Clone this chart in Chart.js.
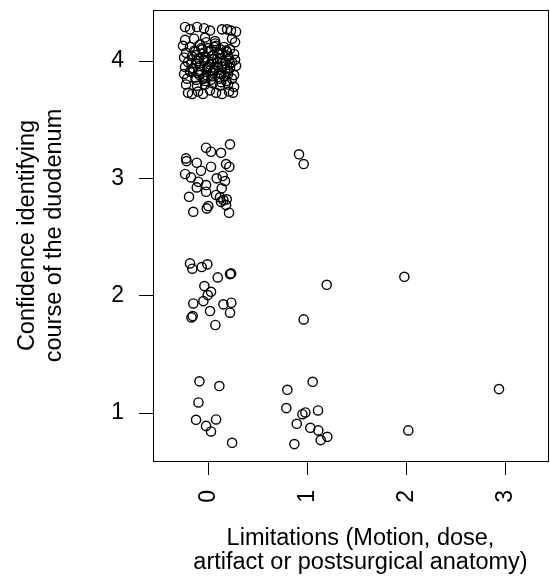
<!DOCTYPE html>
<html>
<head>
<meta charset="utf-8">
<script src="https://cdn.jsdelivr.net/npm/chart.js@4.4.1/dist/chart.umd.min.js"></script>
<style>
    html, body { margin: 0; padding: 0; background: #fff; }
    #wrap { width: 550px; height: 579px; }
</style>
</head>
<body>
<div id="wrap"><canvas id="chart" width="550" height="579"></canvas></div>
<script>
// Jittered points: limitations (x) vs confidence (y), one pair of arrays per confidence level
const conf1X = [-0.09, 0.111, -0.10, -0.124, 0.078, -0.023, 0.027, 0.24,
    1.054, 0.798, 0.788, 0.95, 0.98, 1.108, 0.893, 1.03, 1.111, 1.202, 1.135, 0.869,
    2.02, 2.936];
const conf1Y = [1.27, 1.23, 1.09, 0.942, 0.945, 0.89, 0.843, 0.746,
    1.266, 1.198, 1.042, 0.99, 1.005, 1.022, 0.908, 0.874, 0.852, 0.797, 0.769, 0.735,
    0.852, 1.204];

const conf2X = [-0.185, -0.162, -0.067, -0.01, 0.095, 0.219, 0.23, -0.04, 0.027, -0.006,
    -0.05, -0.152, 0.152, 0.232, -0.158, -0.17, 0.017, 0.219, 0.071,
    1.196, 0.963, 1.98];
const conf2Y = [2.275, 2.23, 2.244, 2.267, 2.156, 2.184, 2.19, 2.082, 2.033, 2.005,
    1.954, 1.934, 1.926, 1.94, 1.826, 1.815, 1.869, 1.855, 1.75,
    2.093, 1.798, 2.161];

const conf3X = [-0.023, 0.027, 0.219, 0.128, -0.225, -0.22, -0.117, 0.027, 0.179, 0.212,
    -0.074, -0.235, -0.175, -0.101, 0.084, 0.145, 0.169, -0.023, -0.117, 0.135,
    -0.023, -0.195, 0.078, 0.118, 0.152, 0.128, 0.186, 0, -0.016, -0.152,
    0.209, 0.179,
    0.916, 0.963];
const conf3Y = [3.261, 3.227, 3.29, 3.218, 3.17, 3.147, 3.133, 3.099, 3.122, 3.099,
    3.065, 3.037, 3.008, 2.971, 3.0, 3.02, 2.977, 2.943, 2.923, 2.915,
    2.886, 2.843, 2.858, 2.838, 2.815, 2.80, 2.821, 2.764, 2.744, 2.715,
    2.707, 2.772,
    3.205, 3.122];

const conf4X = [-0.235, -0.185, -0.114, -0.043, 0.017, 0.138, 0.189, 0.229, 0.280,
    -0.235, -0.144, -0.033, 0.068, 0.239, 0.27,
    -0.256, -0.185, -0.084, -0.003, 0.078, 0.159, 0.219,
    -0.225, -0.134, -0.054, 0.027, 0.108, 0.189, 0.26,
    -0.245, -0.165, -0.094, -0.023, 0.047, 0.118, 0.199, 0.27,
    -0.205, -0.124, -0.043, 0.017, 0.088, 0.169, 0.239,
    -0.235, -0.155, -0.084, -0.003, 0.068, 0.138, 0.219, 0.280,
    -0.245, -0.185, -0.104, -0.023, 0.047, 0.128, 0.199, 0.260,
    -0.215, -0.124, -0.043, 0.027, 0.108, 0.179, 0.239,
    -0.225, -0.114, -0.033, 0.047, 0.118, 0.199, 0.260,
    -0.205, -0.165, -0.104, -0.054, 0.017, 0.078, 0.138, 0.209, 0.249,
    -0.06, 0.05, 0.14, -0.12, 0.02, 0.10, -0.03, 0.16, -0.17, 0.21, 0.07, -0.09,
    -0.14, -0.07, 0.00, 0.06, 0.12, 0.18, -0.11, -0.04, 0.03, 0.09, 0.15, 0.22,
    -0.16, -0.08, -0.01, 0.05, 0.11, 0.17, -0.13, -0.05, 0.04, 0.13, 0.20, -0.02];
const conf4Y = [4.29, 4.27, 4.29, 4.28, 4.26, 4.27, 4.27, 4.26, 4.25,
    4.18, 4.19, 4.20, 4.17, 4.19, 4.16,
    4.13, 4.12, 4.14, 4.11, 4.13, 4.12, 4.10,
    4.07, 4.08, 4.06, 4.09, 4.07, 4.08, 4.06,
    4.03, 4.04, 4.02, 4.03, 4.05, 4.02, 4.04, 4.01,
    3.99, 3.98, 4.00, 3.97, 3.99, 3.98, 3.99,
    3.95, 3.94, 3.96, 3.95, 3.93, 3.95, 3.94, 3.96,
    3.89, 3.91, 3.90, 3.88, 3.90, 3.89, 3.91, 3.88,
    3.85, 3.84, 3.86, 3.84, 3.85, 3.83, 3.85,
    3.80, 3.79, 3.80, 3.81, 3.79, 3.80, 3.78,
    3.73, 3.72, 3.74, 3.72, 3.75, 3.73, 3.72, 3.74, 3.73,
    4.10, 4.02, 4.06, 4.05, 3.92, 3.95, 3.83, 3.87, 3.98, 4.02, 4.15, 3.88,
    4.09, 4.11, 4.08, 4.12, 4.10, 4.09, 4.00, 4.01, 3.99, 4.02, 4.00, 3.98,
    3.93, 3.91, 3.94, 3.92, 3.90, 3.93, 3.86, 3.85, 3.87, 3.82, 3.89, 4.16];

const xTicks = [0, 1, 2, 3];
const yTicks = [1, 2, 3, 4];
const xTitle = ['Limitations (Motion, dose,', 'artifact or postsurgical anatomy)'];
const yTitle = ['Confidence identifying', 'course of the duodenum'];

const FONT = 'Liberation Sans, Arial, Helvetica, sans-serif';

function zip(xs, ys) {
    return xs.map((x, i) => ({ x: x, y: ys[i] }));
}

const points = []
    .concat(zip(conf1X, conf1Y))
    .concat(zip(conf2X, conf2Y))
    .concat(zip(conf3X, conf3Y))
    .concat(zip(conf4X, conf4Y));

function noPadding(scale) {
    scale.paddingTop = 0;
    scale.paddingBottom = 0;
    scale.paddingLeft = 0;
    scale.paddingRight = 0;
}

// R style box around the plotting region, plus the x label (sits a bit right of centre)
const boxPlugin = {
    id: 'box',
    afterDraw(chart) {
        const { ctx, chartArea } = chart;
        ctx.save();
        ctx.strokeStyle = '#000';
        ctx.lineWidth = 1;
        ctx.strokeRect(Math.round(chartArea.left) + 0.5, Math.round(chartArea.top) + 0.5,
            Math.round(chartArea.right - chartArea.left), Math.round(chartArea.bottom - chartArea.top));

        ctx.fillStyle = '#000';
        ctx.font = '23.5px ' + FONT;
        ctx.textAlign = 'center';
        ctx.textBaseline = 'alphabetic';
        const cx = (chartArea.left + chartArea.right) / 2 + 10;
        xTitle.forEach((line, i) => ctx.fillText(line, cx, 545 + i * 23.5));
        ctx.restore();
    }
};

new Chart(document.getElementById('chart'), {
    type: 'scatter',
    data: {
        datasets: [{
            data: points,
            pointStyle: 'circle',
            pointRadius: 4.6,
            pointBorderWidth: 1.4,
            pointBorderColor: '#000',
            pointBackgroundColor: 'rgba(0,0,0,0)'
        }]
    },
    options: {
        responsive: false,
        animation: false,
        layout: { autoPadding: false, padding: { top: 10, right: 2, left: 0, bottom: 0 } },
        plugins: {
            legend: { display: false },
            tooltip: { enabled: false }
        },
        scales: {
            x: {
                type: 'linear',
                min: -0.559,
                max: 3.431,
                afterBuildTicks: (scale) => { scale.ticks = xTicks.map(v => ({ value: v })); },
                afterFit: (scale) => { scale.height = 118; noPadding(scale); },
                border: { display: false },
                grid: { drawOnChartArea: false, drawTicks: true, tickLength: 14, color: '#000', lineWidth: 1 },
                ticks: {
                    minRotation: 90,
                    maxRotation: 90,
                    padding: 15,
                    color: '#000',
                    font: { family: FONT, size: 23 }
                },
                title: { display: false }
            },
            y: {
                type: 'linear',
                min: 0.591,
                max: 4.435,
                afterBuildTicks: (scale) => { scale.ticks = yTicks.map(v => ({ value: v })); },
                afterFit: (scale) => { scale.width = 153; noPadding(scale); },
                border: { display: false },
                grid: { drawOnChartArea: false, drawTicks: true, tickLength: 14, color: '#000', lineWidth: 1 },
                ticks: {
                    padding: 15,
                    color: '#000',
                    font: { family: FONT, size: 23 }
                },
                title: {
                    display: true,
                    text: yTitle,
                    color: '#000',
                    font: { family: FONT, size: 23.5, lineHeight: 1.14 },
                    padding: { top: 14, bottom: 0 }
                }
            }
        }
    },
    plugins: [boxPlugin]
});
</script>
</body>
</html>
